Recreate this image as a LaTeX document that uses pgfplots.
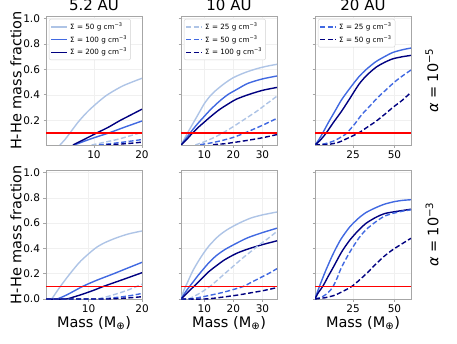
\documentclass[border=0pt]{standalone}
\usepackage{pgfplots}
\pgfplotsset{compat=1.18}
\usepackage{fontspec}
\setmainfont{DejaVu Sans}

\definecolor{sLight}{HTML}{AEC4E6}
\definecolor{sMid}{HTML}{4169E1}
\definecolor{sDark}{HTML}{000080}
\definecolor{hhe}{HTML}{FF0000}

\pgfplotsset{
  panel/.style={
    scale only axis, width=96pt, height=129pt, anchor=south west,
    axis line style={gray!70, line width=0.6pt},
    grid=major, grid style={gray!12, line width=0.5pt},
    tick align=outside, major tick length=2.5pt, tick style={gray!70, line width=0.6pt},
    xtick pos=left, ytick pos=left,
    ticklabel style={font=\fontsize{10.5}{12}\selectfont},
    /pgf/number format/assume math mode=true,
    ytick={0,0.2,0.4,0.6,0.8,1.0},
    yticklabel style={/pgf/number format/.cd, fixed, fixed zerofill, precision=1},
    ymax=1.02,
    title style={font=\fontsize{15}{18}\selectfont, yshift=-4pt},
    legend style={at={(0.03,0.977)}, anchor=north west, draw=gray!35, rounded corners=2pt,
      font=\fontsize{7.2}{8}\selectfont, inner sep=1.5pt, row sep=0.5pt, cells={anchor=west}},
    legend image code/.code={\draw[#1, line width=1.6pt] (0pt,0pt) -- (8pt,0pt) -- (16pt,0pt);},
  },
  toprow/.style={ymin=0.005},
  botrow/.style={ymin=0},
  noylab/.style={yticklabels={}},
  cL/.style={color=sLight, line width=1.4pt, smooth, tension=0.45},
  cM/.style={color=sMid, line width=1.4pt, smooth, tension=0.45},
  cD/.style={color=sDark, line width=1.4pt, smooth, tension=0.45},
  rl/.style={color=hhe, line width=1.7pt},
  dsh/.style={dash pattern=on 5pt off 2.5pt},
}

\begin{document}
\begin{tikzpicture}
\useasboundingbox (0,0) rectangle (457pt,343pt);

% ---- row 1: alpha = 1e-5 ----
\begin{axis}[panel, toprow, at={(46pt,198pt)}, xmin=0, xmax=20, xtick={10,20}, title={5.2 AU}]
\addplot[cL] coordinates {(2.9,0.005) (4,0.05) (5,0.1) (6.8,0.19) (9,0.28) (12.4,0.39) (16,0.47) (20,0.53)};
\addlegendentry{Σ = 50 g cm\textsuperscript{−3}}
\addplot[cM] coordinates {(5.9,0.005) (8,0.035) (10,0.062) (13.1,0.1) (16.5,0.147) (20,0.194)};
\addlegendentry{Σ = 100 g cm\textsuperscript{−3}}
\addplot[cD] coordinates {(5.6,0.005) (8,0.05) (10.6,0.1) (13,0.145) (15.3,0.195) (17.6,0.24) (20,0.287)};
\addlegendentry{Σ = 200 g cm\textsuperscript{−3}}
\addplot[cL, dsh, forget plot] coordinates {(9.5,0.005) (12,0.025) (15,0.05) (17.5,0.077) (20,0.105)};
\addplot[cM, dsh, forget plot] coordinates {(11,0.005) (14,0.018) (17,0.032) (20,0.048)};
\addplot[cD, dsh, forget plot] coordinates {(12.5,0.005) (15,0.011) (17.5,0.018) (20,0.027)};
\addplot[rl, forget plot] coordinates {(0,0.1) (20,0.1)};
\end{axis}

\begin{axis}[panel, toprow, noylab, at={(181pt,198pt)}, xmin=2, xmax=35, xtick={10,20,30}, title={10 AU}]
\addplot[cL, forget plot] coordinates {(2,0.005) (3,0.045) (4,0.09) (5,0.13) (6.5,0.19) (8,0.25) (10,0.33) (12,0.39) (14,0.435) (17,0.49) (20,0.535) (24,0.575) (28,0.605) (31.5,0.625) (35,0.64)};
\addplot[cM, forget plot] coordinates {(2,0.005) (4,0.065) (6,0.125) (8,0.18) (10,0.23) (12,0.28) (15,0.345) (18,0.4) (21,0.44) (25,0.49) (30,0.525) (35,0.548)};
\addplot[cD, forget plot] coordinates {(2,0.005) (4,0.05) (6,0.1) (8,0.145) (10,0.185) (12,0.225) (15,0.28) (18,0.325) (21,0.365) (25,0.4) (30,0.435) (35,0.458)};
\addplot[cL, dsh] coordinates {(6.9,0.005) (10,0.03) (13,0.06) (16,0.095) (20,0.15) (24,0.21) (28,0.27) (31.5,0.33) (35,0.39)};
\addlegendentry{Σ = 25 g cm\textsuperscript{−3}}
\addplot[cM, dsh] coordinates {(8.6,0.008) (12,0.02) (16,0.04) (20,0.065) (24,0.1) (27,0.13) (30,0.16) (35,0.215)};
\addlegendentry{Σ = 50 g cm\textsuperscript{−3}}
\addplot[cD, dsh] coordinates {(13,0.008) (17,0.015) (21,0.028) (25,0.042) (30,0.062) (35,0.087)};
\addlegendentry{Σ = 100 g cm\textsuperscript{−3}}
\addplot[rl, forget plot] coordinates {(2,0.1) (35,0.1)};
\end{axis}

\begin{axis}[panel, toprow, noylab, at={(315pt,198pt)}, xmin=2, xmax=60, xtick={25,50}, title={20 AU}]
\addplot[cM, forget plot] coordinates {(2,0.005) (4,0.04) (6.7,0.1) (10,0.18) (14,0.27) (18,0.36) (23,0.45) (28.4,0.54) (33,0.6) (38.7,0.66) (44,0.70) (49,0.733) (55,0.755) (60,0.768)};
\addplot[cD, forget plot] coordinates {(2,0.005) (5,0.04) (8.8,0.1) (13,0.18) (18,0.27) (23,0.37) (28.4,0.48) (33,0.55) (38.7,0.615) (44,0.655) (49,0.683) (55,0.70) (60,0.71)};
\addplot[cM, dsh] coordinates {(2,0.005) (8,0.015) (14,0.04) (18,0.07) (20,0.085) (22,0.11) (24,0.14) (26,0.17) (30,0.24) (35,0.31) (40,0.38) (45,0.44) (50,0.5) (55,0.55) (60,0.595)};
\addlegendentry{Σ = 25 g cm\textsuperscript{−3}}
\addplot[cD, dsh] coordinates {(2,0.005) (10,0.01) (16,0.025) (22,0.06) (28.4,0.1) (33,0.14) (38.7,0.19) (44,0.245) (49,0.3) (55,0.36) (60,0.42)};
\addlegendentry{Σ = 50 g cm\textsuperscript{−3}}
\addplot[rl, forget plot] coordinates {(2,0.1) (60,0.1)};
\end{axis}

% ---- row 2: alpha = 1e-3 ----
\begin{axis}[panel, botrow, at={(46pt,44pt)}, xmin=2, xmax=20, xtick={10,20}]
\addplot[cL] coordinates {(2,0) (3,0) (3.8,0.045) (4.7,0.1) (6.5,0.2) (8.5,0.3) (11.2,0.4) (13,0.445) (15.3,0.485) (17.5,0.515) (20,0.538)};
\addplot[cM] coordinates {(2,0) (4,0) (6,0.035) (8.9,0.1) (11.5,0.148) (14.7,0.2) (17.5,0.248) (20,0.29)};
\addplot[cD] coordinates {(2,0) (5.7,0) (7.5,0.02) (9,0.04) (11,0.07) (12.8,0.1) (16.5,0.155) (20,0.208)};
\addplot[cL, dsh] coordinates {(2,0) (11,0) (12.5,0.01) (14,0.025) (17,0.065) (20,0.117)};
\addplot[cM, dsh] coordinates {(2,0) (12,0) (14,0.007) (16,0.016) (18,0.028) (20,0.044)};
\addplot[cD, dsh] coordinates {(2,0) (13,0) (15,0.003) (17.5,0.009) (20,0.018)};
\addplot[rl] coordinates {(2,0.1) (20,0.1)};
\end{axis}

\begin{axis}[panel, botrow, noylab, at={(181pt,44pt)}, xmin=2, xmax=35, xtick={10,20,30}]
\addplot[cL] coordinates {(2,0) (3,0.07) (4,0.12) (6,0.22) (8,0.3) (10,0.37) (12,0.43) (15,0.5) (18,0.55) (22,0.6) (26,0.64) (30,0.665) (35,0.688)};
\addplot[cM] coordinates {(2,0) (4,0.07) (6,0.13) (8,0.19) (11.5,0.285) (14,0.34) (17,0.39) (21,0.44) (25,0.485) (30,0.525) (35,0.56)};
\addplot[cD] coordinates {(2,0) (4,0.045) (6,0.09) (8,0.135) (11.5,0.215) (14,0.26) (17,0.31) (21,0.36) (25,0.395) (30,0.43) (35,0.46)};
\addplot[cL, dsh] coordinates {(2,0) (4.5,0) (8,0.04) (12,0.1) (17,0.2) (20,0.26) (23,0.32) (26,0.375) (29,0.43) (32,0.48) (35,0.535)};
\addplot[cM, dsh] coordinates {(2,0) (5,0) (10,0.02) (16,0.05) (20,0.075) (23.5,0.1) (26,0.13) (29,0.165) (32,0.2) (35,0.24)};
\addplot[cD, dsh] coordinates {(2,0) (10,0) (14,0.008) (18,0.02) (22,0.033) (25,0.045) (30,0.065) (35,0.09)};
\addplot[rl] coordinates {(2,0.1) (35,0.1)};
\end{axis}

\begin{axis}[panel, botrow, noylab, at={(315pt,44pt)}, xmin=2, xmax=60, xtick={25,50}]
\addplot[cM] coordinates {(2,0) (3,0.04) (4.7,0.1) (8,0.21) (12,0.33) (15,0.41) (18,0.48) (23,0.57) (28.4,0.64) (33,0.685) (38.7,0.722) (44,0.75) (50,0.77) (55,0.78) (60,0.785)};
\addplot[cD] coordinates {(2,0) (4,0.05) (6.7,0.1) (10,0.18) (13,0.25) (18,0.37) (23,0.465) (28.4,0.545) (33,0.6) (38.7,0.645) (44,0.675) (50,0.69) (55,0.70) (60,0.71)};
\addplot[cM, dsh] coordinates {(2,0) (6,0.015) (9,0.04) (11,0.065) (13,0.1) (15.5,0.17) (18,0.25) (23,0.37) (28.4,0.48) (33,0.55) (38.7,0.61) (44,0.655) (50,0.68) (55,0.695) (60,0.705)};
\addplot[cD, dsh] coordinates {(2,0) (8,0.01) (14,0.03) (18,0.055) (21,0.075) (24.3,0.1) (28.4,0.145) (33,0.2) (38.7,0.275) (44,0.34) (49,0.39) (55,0.44) (60,0.48)};
\addplot[rl] coordinates {(2,0.1) (60,0.1)};
\end{axis}

% ---- labels ----
\begin{scope}[every node/.style={font=\fontsize{14.5}{17}\selectfont, inner sep=0pt}]
\node[rotate=90] at (16pt,262.5pt) {H-He mass fraction};
\node[rotate=90] at (16pt,108.5pt) {H-He mass fraction};
\node at (94pt,20pt) {Mass (M\textsubscript{⊕})};
\node at (229pt,20pt) {Mass (M\textsubscript{⊕})};
\node at (363pt,20pt) {Mass (M\textsubscript{⊕})};
\node[rotate=90] at (432pt,262.5pt) {\textit{α} = 10\textsuperscript{−5}};
\node[rotate=90] at (432pt,108.5pt) {\textit{α} = 10\textsuperscript{−3}};
\end{scope}
\end{tikzpicture}
\end{document}
